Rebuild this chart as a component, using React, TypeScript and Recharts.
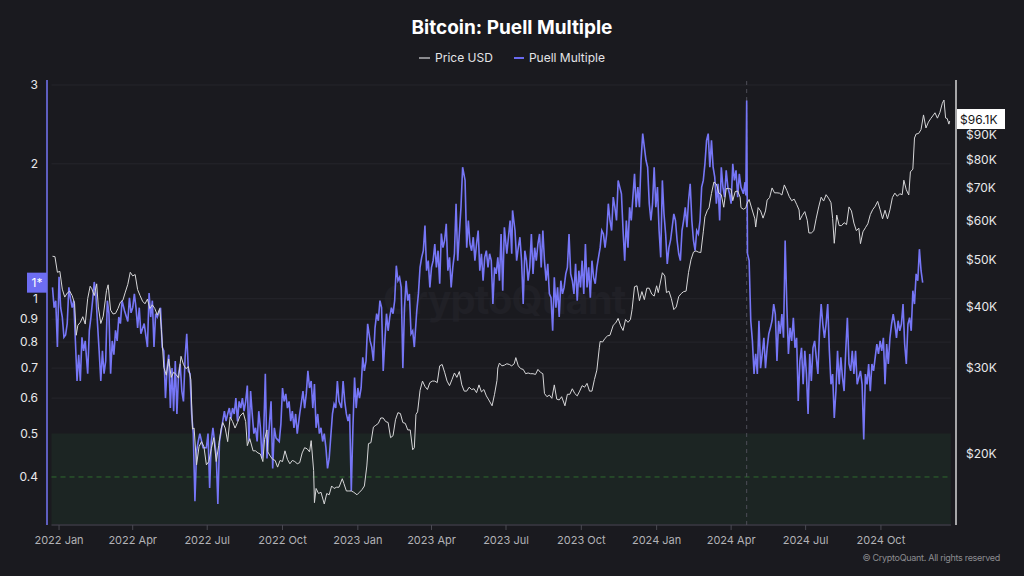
import React from 'react';
import { ComposedChart, Line, XAxis, YAxis, ReferenceArea, ReferenceLine, ReferenceDot } from 'recharts';

// ---------- data ----------
const BASE = Date.UTC(2022, 0, 1);
const dayOf = (s: string) => (Date.parse(s + 'T00:00:00Z') - BASE) / 86400000;

const xTickDates = ['2022-01-01', '2022-04-01', '2022-07-01', '2022-10-01', '2023-01-01', '2023-04-01', '2023-07-01', '2023-10-01', '2024-01-01', '2024-04-01', '2024-07-01', '2024-10-01'];
const xTickLabels = ['2022 Jan', '2022 Apr', '2022 Jul', '2022 Oct', '2023 Jan', '2023 Apr', '2023 Jul', '2023 Oct', '2024 Jan', '2024 Apr', '2024 Jul', '2024 Oct'];
const puellTicks = [0.4, 0.5, 0.6, 0.7, 0.8, 0.9, 1, 2, 3];
const puellGridValues = [0.6, 0.7, 0.8, 0.9, 1, 2, 3];
const priceTicks = [20000, 30000, 40000, 50000, 60000, 70000, 80000, 90000];
const halvingDate = '2024-04-20';
const lastPuellLabel = '1*';
const lastPuellValue = 1.086;
const lastPriceLabel = '$96.1K';
const lastPriceValue = 96100;

// Puell Multiple: [days since 2022-01-01, value]
const puell2022: [number, number][] = [
  [-8, 1.06], [-6, 0.955], [-4, 0.99], [-2, 0.78], [0, 1.12], [2, 0.955], [4, 0.91], [6, 0.82], [8, 0.83], [10, 0.88],
  [12, 1.06], [14, 1.0], [16, 0.955], [18, 0.99], [20, 0.805], [22, 0.655], [24, 0.75], [26, 0.655], [28, 0.82], [30, 0.765],
  [32, 0.805], [35, 0.68], [37, 0.85], [39, 0.91], [41, 0.99], [43, 1.09], [45, 1.025], [47, 0.88], [49, 0.765], [51, 0.655],
  [53, 0.765], [55, 0.68], [57, 0.726], [59, 0.99], [61, 0.926], [63, 0.68], [65, 0.805], [67, 0.75], [69, 0.85], [71, 0.805],
  [73, 0.91], [75, 0.88], [77, 0.99], [80, 0.94], [84, 0.89], [86, 1.005], [88, 0.93], [90, 0.955], [92, 1.025], [94, 0.955],
  [96, 0.86], [98, 0.955], [100, 0.835], [104, 0.88], [108, 0.78], [110, 1.03], [112, 0.91], [114, 0.99], [116, 0.78], [118, 0.926],
  [120, 0.91], [124, 0.955], [126, 0.78], [128, 0.765], [130, 0.6], [132, 0.7], [134, 0.75], [136, 0.57], [138, 0.7], [140, 0.561],
  [142, 0.726], [144, 0.553], [146, 0.68], [148, 0.715], [150, 0.622], [152, 0.59], [154, 0.74], [156, 0.835], [158, 0.69], [160, 0.68],
  [162, 0.553], [164, 0.5], [166, 0.353], [168, 0.457], [170, 0.48], [172, 0.5], [176, 0.465], [180, 0.465], [182, 0.5], [184, 0.378],
  [186, 0.48], [188, 0.515], [190, 0.48], [192, 0.45], [194, 0.348], [196, 0.48], [198, 0.506], [200, 0.533], [202, 0.561], [204, 0.533],
  [206, 0.553], [208, 0.57], [210, 0.54], [212, 0.57], [214, 0.553], [216, 0.6], [218, 0.533], [220, 0.59], [222, 0.57], [224, 0.6],
  [226, 0.561], [228, 0.59], [230, 0.64], [232, 0.48], [234, 0.622], [236, 0.553], [238, 0.5], [240, 0.515], [242, 0.48], [244, 0.561],
  [246, 0.515], [248, 0.44], [250, 0.5], [252, 0.68], [254, 0.44], [257, 0.525], [259, 0.59], [261, 0.418], [263, 0.515], [265, 0.489],
  [269, 0.48], [271, 0.525], [273, 0.632], [275, 0.59], [277, 0.613], [279, 0.57], [281, 0.59], [283, 0.533], [285, 0.561], [287, 0.515],
  [289, 0.553], [291, 0.5], [294, 0.553], [298, 0.622], [300, 0.57], [302, 0.613], [304, 0.69], [306, 0.632], [308, 0.655], [310, 0.57],
  [312, 0.645], [314, 0.515], [316, 0.553], [318, 0.5], [320, 0.515], [322, 0.48], [324, 0.5], [326, 0.465], [328, 0.418], [330, 0.44],
  [334, 0.553], [336, 0.582], [338, 0.57], [340, 0.655], [342, 0.59], [345, 0.57], [347, 0.655], [349, 0.59], [351, 0.553], [353, 0.533],
  [355, 0.553], [357, 0.372], [359, 0.515], [361, 0.667], [363, 0.57],
];
const puell2023: [number, number][] = [
  [365, 0.632], [367, 0.6], [369, 0.632], [371, 0.74], [373, 0.69], [375, 0.726], [377, 0.879], [380, 0.805], [382, 0.78], [384, 0.726],
  [386, 0.861], [388, 0.926], [390, 0.893], [392, 0.99], [394, 0.955], [396, 0.69], [398, 0.805], [400, 0.926], [402, 0.848], [404, 0.91],
  [406, 0.955], [408, 0.926], [410, 0.99], [412, 1.185], [414, 1.097], [416, 1.116], [418, 1.06], [420, 0.7], [422, 0.955], [424, 1.097],
  [426, 0.99], [428, 1.025], [430, 0.835], [432, 0.848], [434, 0.78], [437, 0.94], [439, 1.025], [441, 1.175], [443, 1.237], [445, 1.28],
  [447, 1.457], [449, 1.155], [451, 1.216], [453, 1.06], [455, 1.175], [457, 1.216], [459, 1.325], [461, 1.175], [463, 1.28], [465, 1.08],
  [467, 1.398], [469, 1.3], [471, 1.349], [473, 1.47], [475, 1.155], [477, 1.237], [479, 1.06], [481, 1.175], [483, 1.26], [485, 1.63],
  [487, 1.216], [489, 1.398], [491, 1.6], [493, 1.966], [496, 1.837], [498, 1.3], [500, 1.495], [502, 1.325], [504, 1.28], [506, 1.372],
  [508, 1.216], [510, 1.325], [512, 1.42], [514, 1.155], [516, 1.26], [518, 1.097], [520, 1.237], [522, 1.28], [524, 1.175], [526, 1.26],
  [528, 1.216], [530, 0.973], [532, 1.175], [534, 1.136], [536, 1.237], [538, 1.097], [540, 1.395], [542, 1.042], [544, 1.444], [547, 1.26],
  [549, 1.372], [551, 1.495], [553, 1.26], [554, 1.574], [557, 1.42], [559, 1.216], [561, 1.3], [563, 1.372], [565, 1.216], [567, 0.973],
  [569, 1.28], [571, 1.216], [573, 1.097], [575, 1.175], [577, 1.395], [579, 1.136], [581, 1.3], [583, 1.216], [585, 1.325], [587, 1.395],
  [589, 1.175], [591, 1.42], [593, 1.216], [595, 1.097], [597, 1.196], [599, 1.025], [601, 1.005], [603, 0.848], [605, 1.116], [607, 0.955],
  [609, 1.06], [611, 0.91], [613, 1.097], [615, 1.025], [617, 1.06], [619, 1.136], [621, 1.175], [623, 1.395], [625, 1.136], [627, 1.097],
  [629, 1.025], [631, 1.196], [633, 0.99], [635, 1.155], [637, 1.06], [639, 1.216], [641, 1.025], [643, 1.325], [645, 1.06], [647, 1.175],
  [649, 1.005], [651, 1.216], [653, 1.116], [655, 1.08], [657, 1.175], [659, 1.237], [661, 1.3], [663, 1.42], [665, 1.395], [667, 1.3],
  [669, 1.395], [671, 1.63], [673, 1.495], [675, 1.42], [677, 1.686], [679, 1.6], [681, 1.495], [683, 1.837], [685, 1.775], [687, 1.715],
  [689, 1.42], [691, 1.216], [693, 1.495], [695, 1.3], [697, 1.6], [699, 1.495], [701, 1.686], [703, 1.9], [705, 1.6], [707, 1.775],
  [709, 1.6], [711, 2.037], [713, 2.336], [715, 2.18], [717, 2.037], [719, 1.966], [721, 1.63], [723, 1.495], [725, 1.63], [727, 1.966],
  [729, 1.6],
];
const puell2024: [number, number][] = [
  [731, 1.775], [733, 1.42], [735, 1.237], [737, 1.837], [739, 1.547], [741, 1.395], [743, 1.196], [745, 1.3], [747, 1.349], [749, 1.444],
  [751, 1.547], [753, 1.495], [755, 1.349], [757, 1.26], [759, 1.216], [761, 1.42], [763, 1.495], [765, 1.6], [767, 1.444], [769, 1.657],
  [771, 1.806], [773, 1.495], [775, 1.349], [777, 1.28], [779, 1.42], [781, 1.395], [783, 1.495], [785, 1.775], [787, 1.837], [789, 2.0],
  [791, 2.257], [793, 2.336], [795, 1.966], [797, 2.257], [799, 1.966], [801, 1.868], [803, 1.63], [805, 1.806], [807, 1.495], [809, 1.966],
  [811, 1.775], [813, 1.686], [815, 1.935], [817, 1.775], [819, 1.715], [821, 1.63], [823, 2.0], [825, 1.837], [827, 1.935], [829, 1.686],
  [831, 1.9], [833, 1.775], [836, 1.715], [838, 1.82], [839, 1.7], [840, 2.77], [841, 1.26], [843, 1.216], [845, 0.893], [847, 0.805],
  [849, 0.679], [851, 0.753], [853, 0.679], [855, 0.893], [857, 0.7], [859, 0.753], [861, 0.818], [863, 0.7], [865, 0.777], [867, 0.835],
  [869, 0.861], [871, 0.893], [873, 0.973], [875, 0.924], [877, 0.726], [879, 0.893], [881, 0.835], [883, 0.924], [885, 0.818], [887, 1.349],
  [889, 0.973], [891, 0.753], [893, 0.861], [895, 0.805], [897, 0.907], [899, 0.777], [901, 0.818], [903, 0.591], [905, 0.726], [907, 0.777],
  [909, 0.644], [911, 0.765], [913, 0.679], [915, 0.553], [917, 0.753], [919, 0.655], [921, 0.777], [923, 0.805], [925, 0.74], [927, 0.679],
  [929, 0.848], [931, 0.973], [933, 0.878], [935, 0.818], [937, 0.878], [939, 0.973], [941, 0.765], [943, 0.644], [945, 0.679], [947, 0.542],
  [949, 0.622], [951, 0.765], [953, 0.644], [955, 0.74], [957, 0.667], [959, 0.622], [961, 0.765], [963, 0.907], [965, 0.715], [967, 0.69],
  [969, 0.765], [971, 0.679], [973, 0.765], [975, 0.644], [977, 0.667], [979, 0.69], [981, 0.644], [983, 0.485], [985, 0.679], [987, 0.644],
  [989, 0.715], [991, 0.622], [993, 0.715], [995, 0.69], [997, 0.74], [999, 0.792], [1001, 0.753], [1003, 0.805], [1005, 0.765], [1007, 0.818],
  [1009, 0.644], [1011, 0.792], [1013, 0.715], [1015, 0.818], [1017, 0.878], [1019, 0.924], [1021, 0.878], [1023, 0.818], [1025, 0.893], [1027, 0.848],
  [1029, 0.878], [1031, 0.973], [1033, 0.792], [1035, 0.715], [1037, 0.878], [1039, 0.907], [1041, 0.848], [1043, 1.042], [1045, 0.973], [1047, 1.136],
  [1049, 1.097], [1051, 1.29], [1053, 1.155], [1055, 1.086],
];

// BTC price: [date, thousand USD]
const price2022: [string, number][] = [
  ['2021-12-24', 50.8], ['2021-12-27', 50.7], ['2021-12-30', 47.1], ['2022-01-02', 47.3], ['2022-01-05', 43.5], ['2022-01-08', 41.9], ['2022-01-11', 42.7], ['2022-01-14', 43.1],
  ['2022-01-17', 42.2], ['2022-01-20', 40.7], ['2022-01-22', 35.0], ['2022-01-24', 36.7], ['2022-01-27', 37.2], ['2022-01-30', 38.2], ['2022-02-02', 36.9], ['2022-02-05', 41.6],
  ['2022-02-08', 44.1], ['2022-02-10', 43.6], ['2022-02-13', 42.2], ['2022-02-16', 44.6], ['2022-02-18', 40.0], ['2022-02-21', 37.0], ['2022-02-24', 38.3], ['2022-02-28', 43.2],
  ['2022-03-02', 44.4], ['2022-03-05', 39.4], ['2022-03-08', 38.7], ['2022-03-11', 38.8], ['2022-03-14', 39.7], ['2022-03-17', 40.9], ['2022-03-20', 41.3], ['2022-03-23', 42.9],
  ['2022-03-26', 44.5], ['2022-03-29', 47.1], ['2022-04-01', 46.3], ['2022-04-04', 46.6], ['2022-04-07', 43.4], ['2022-04-10', 42.2], ['2022-04-13', 41.1], ['2022-04-16', 40.6],
  ['2022-04-19', 41.5], ['2022-04-22', 39.7], ['2022-04-25', 40.4], ['2022-04-28', 39.7], ['2022-05-01', 38.5], ['2022-05-04', 39.7], ['2022-05-06', 36.0], ['2022-05-09', 30.1],
  ['2022-05-12', 29.0], ['2022-05-15', 31.3], ['2022-05-18', 28.7], ['2022-05-21', 29.4], ['2022-05-24', 29.1], ['2022-05-27', 28.6], ['2022-05-30', 31.7], ['2022-06-02', 30.5],
  ['2022-06-05', 29.9], ['2022-06-08', 30.2], ['2022-06-11', 28.4], ['2022-06-13', 22.5], ['2022-06-15', 22.6], ['2022-06-18', 19.0], ['2022-06-21', 20.7], ['2022-06-24', 21.2],
  ['2022-06-27', 20.7], ['2022-06-30', 19.0], ['2022-07-03', 19.3], ['2022-07-06', 20.5], ['2022-07-09', 21.6], ['2022-07-12', 19.3], ['2022-07-15', 20.8], ['2022-07-18', 22.5],
  ['2022-07-20', 23.2], ['2022-07-23', 22.6], ['2022-07-26', 21.2], ['2022-07-29', 23.8], ['2022-08-01', 23.3], ['2022-08-04', 22.6], ['2022-08-07', 23.2], ['2022-08-10', 23.9],
  ['2022-08-14', 24.3], ['2022-08-17', 23.3], ['2022-08-19', 20.8], ['2022-08-22', 21.5], ['2022-08-26', 20.3], ['2022-08-29', 20.3], ['2022-09-01', 20.1], ['2022-09-04', 20.0],
  ['2022-09-07', 19.3], ['2022-09-09', 21.4], ['2022-09-12', 22.4], ['2022-09-13', 20.2], ['2022-09-16', 19.8], ['2022-09-19', 19.5], ['2022-09-22', 19.4], ['2022-09-25', 18.8],
  ['2022-09-28', 19.4], ['2022-10-01', 19.3], ['2022-10-04', 20.3], ['2022-10-07', 19.5], ['2022-10-10', 19.1], ['2022-10-13', 19.4], ['2022-10-16', 19.3], ['2022-10-19', 19.1],
  ['2022-10-22', 19.2], ['2022-10-25', 20.1], ['2022-10-28', 20.6], ['2022-10-31', 20.5], ['2022-11-03', 20.2], ['2022-11-05', 21.3], ['2022-11-08', 18.5], ['2022-11-09', 15.9],
  ['2022-11-11', 17.0], ['2022-11-14', 16.6], ['2022-11-17', 16.7], ['2022-11-21', 15.8], ['2022-11-24', 16.6], ['2022-11-27', 16.5], ['2022-11-30', 17.2], ['2022-12-03', 17.0],
  ['2022-12-06', 17.1], ['2022-12-09', 17.1], ['2022-12-13', 17.8], ['2022-12-15', 17.4], ['2022-12-18', 16.8], ['2022-12-21', 16.8], ['2022-12-24', 16.8], ['2022-12-27', 16.7],
  ['2022-12-31', 16.5],
];
const price2023: [string, number][] = [
  ['2023-01-03', 16.7], ['2023-01-06', 16.9], ['2023-01-09', 17.2], ['2023-01-12', 18.9], ['2023-01-14', 21.0], ['2023-01-17', 21.1], ['2023-01-20', 22.7], ['2023-01-23', 22.9],
  ['2023-01-26', 23.1], ['2023-01-29', 23.7], ['2023-02-01', 23.7], ['2023-02-04', 23.3], ['2023-02-07', 23.2], ['2023-02-10', 21.6], ['2023-02-13', 21.8], ['2023-02-16', 23.5],
  ['2023-02-19', 24.3], ['2023-02-22', 24.2], ['2023-02-25', 23.2], ['2023-02-28', 23.1], ['2023-03-03', 22.4], ['2023-03-06', 22.4], ['2023-03-09', 20.4], ['2023-03-11', 20.6],
  ['2023-03-13', 24.1], ['2023-03-15', 24.4], ['2023-03-18', 27.0], ['2023-03-21', 28.2], ['2023-03-24', 27.5], ['2023-03-27', 27.1], ['2023-03-30', 28.0], ['2023-04-02', 28.2],
  ['2023-04-05', 28.2], ['2023-04-08', 28.0], ['2023-04-11', 30.3], ['2023-04-14', 30.5], ['2023-04-17', 29.4], ['2023-04-20', 28.2], ['2023-04-23', 27.6], ['2023-04-26', 28.4],
  ['2023-04-29', 29.3], ['2023-05-02', 28.7], ['2023-05-05', 29.5], ['2023-05-08', 27.7], ['2023-05-11', 26.9], ['2023-05-14', 26.9], ['2023-05-17', 27.4], ['2023-05-20', 27.1],
  ['2023-05-23', 27.2], ['2023-05-26', 26.7], ['2023-05-29', 27.7], ['2023-06-01', 26.8], ['2023-06-04', 27.1], ['2023-06-07', 26.3], ['2023-06-10', 25.8], ['2023-06-14', 25.1],
  ['2023-06-17', 26.5], ['2023-06-20', 28.3], ['2023-06-21', 30.0], ['2023-06-23', 30.7], ['2023-06-26', 30.3], ['2023-06-29', 30.4], ['2023-07-02', 30.6], ['2023-07-05', 30.5],
  ['2023-07-08', 30.3], ['2023-07-11', 30.6], ['2023-07-13', 31.5], ['2023-07-16', 30.3], ['2023-07-19', 29.9], ['2023-07-22', 29.8], ['2023-07-25', 29.2], ['2023-07-28', 29.3],
  ['2023-07-31', 29.2], ['2023-08-03', 29.2], ['2023-08-06', 29.1], ['2023-08-09', 29.8], ['2023-08-12', 29.4], ['2023-08-15', 29.2], ['2023-08-17', 26.6], ['2023-08-20', 26.2],
  ['2023-08-23', 26.4], ['2023-08-26', 26.0], ['2023-08-29', 27.7], ['2023-09-01', 25.9], ['2023-09-04', 25.8], ['2023-09-07', 26.2], ['2023-09-11', 25.1], ['2023-09-14', 26.5],
  ['2023-09-17', 26.5], ['2023-09-20', 27.2], ['2023-09-23', 26.6], ['2023-09-26', 26.3], ['2023-09-29', 26.9], ['2023-10-02', 27.6], ['2023-10-05', 27.4], ['2023-10-08', 27.9],
  ['2023-10-11', 26.9], ['2023-10-14', 26.9], ['2023-10-17', 28.4], ['2023-10-20', 29.7], ['2023-10-23', 33.0], ['2023-10-24', 34.0], ['2023-10-27', 33.9], ['2023-10-30', 34.5],
  ['2023-11-02', 34.9], ['2023-11-05', 35.0], ['2023-11-09', 36.7], ['2023-11-12', 37.1], ['2023-11-15', 37.9], ['2023-11-18', 36.6], ['2023-11-21', 35.8], ['2023-11-24', 37.7],
  ['2023-11-27', 37.2], ['2023-11-30', 37.7], ['2023-12-02', 39.5], ['2023-12-05', 44.0], ['2023-12-08', 44.2], ['2023-12-11', 41.2], ['2023-12-14', 43.0], ['2023-12-17', 41.4],
  ['2023-12-20', 43.7], ['2023-12-23', 43.7], ['2023-12-26', 42.5], ['2023-12-29', 42.1],
];
const price2024: [string, number][] = [
  ['2024-01-01', 44.2], ['2024-01-03', 42.8], ['2024-01-08', 47.0], ['2024-01-11', 46.3], ['2024-01-13', 42.8], ['2024-01-16', 43.1], ['2024-01-19', 41.6], ['2024-01-22', 39.5],
  ['2024-01-25', 40.0], ['2024-01-28', 42.0], ['2024-01-31', 42.6], ['2024-02-03', 43.0], ['2024-02-06', 43.1], ['2024-02-09', 47.1], ['2024-02-12', 50.0], ['2024-02-15', 51.8],
  ['2024-02-18', 52.1], ['2024-02-21', 51.8], ['2024-02-24', 51.7], ['2024-02-27', 57.0], ['2024-02-29', 61.2], ['2024-03-03', 63.1], ['2024-03-05', 63.8], ['2024-03-08', 68.3],
  ['2024-03-11', 72.1], ['2024-03-14', 71.4], ['2024-03-17', 68.4], ['2024-03-20', 67.9], ['2024-03-23', 64.0], ['2024-03-26', 69.9], ['2024-03-29', 69.9], ['2024-04-01', 69.7],
  ['2024-04-03', 66.0], ['2024-04-06', 68.9], ['2024-04-09', 69.1], ['2024-04-12', 67.1], ['2024-04-13', 63.9], ['2024-04-16', 63.4], ['2024-04-19', 63.8], ['2024-04-20', 64.9],
  ['2024-04-23', 66.4], ['2024-04-26', 63.8], ['2024-04-30', 60.6], ['2024-05-01', 58.3], ['2024-05-04', 63.9], ['2024-05-07', 62.9], ['2024-05-10', 60.8], ['2024-05-13', 62.9],
  ['2024-05-15', 66.2], ['2024-05-18', 67.0], ['2024-05-21', 70.1], ['2024-05-24', 68.5], ['2024-05-27', 68.5], ['2024-05-30', 68.4], ['2024-06-02', 67.8], ['2024-06-05', 71.1],
  ['2024-06-08', 69.3], ['2024-06-11', 67.3], ['2024-06-14', 66.0], ['2024-06-17', 66.5], ['2024-06-20', 64.9], ['2024-06-23', 63.2], ['2024-06-24', 60.3], ['2024-06-27', 61.6],
  ['2024-06-30', 62.7], ['2024-07-03', 60.2], ['2024-07-05', 56.7], ['2024-07-08', 56.7], ['2024-07-11', 57.3], ['2024-07-14', 60.8], ['2024-07-17', 64.1], ['2024-07-20', 67.1],
  ['2024-07-23', 65.9], ['2024-07-26', 67.9], ['2024-07-29', 66.8], ['2024-08-01', 65.4], ['2024-08-03', 60.7], ['2024-08-05', 54.0], ['2024-08-08', 61.7], ['2024-08-11', 58.7],
  ['2024-08-14', 58.7], ['2024-08-17', 59.5], ['2024-08-20', 59.0], ['2024-08-23', 64.1], ['2024-08-26', 62.9], ['2024-08-29', 59.4], ['2024-09-01', 57.3], ['2024-09-04', 58.0],
  ['2024-09-06', 53.9], ['2024-09-09', 57.0], ['2024-09-12', 58.1], ['2024-09-15', 59.2], ['2024-09-18', 61.8], ['2024-09-21', 63.3], ['2024-09-24', 64.3], ['2024-09-27', 65.8],
  ['2024-09-30', 63.3], ['2024-10-03', 60.6], ['2024-10-06', 63.1], ['2024-10-09', 60.6], ['2024-10-12', 63.2], ['2024-10-15', 67.0], ['2024-10-18', 68.4], ['2024-10-21', 67.4],
  ['2024-10-24', 68.2], ['2024-10-27', 67.9], ['2024-10-29', 72.7], ['2024-11-01', 69.5], ['2024-11-04', 67.8], ['2024-11-06', 75.6], ['2024-11-09', 76.6], ['2024-11-11', 88.7],
  ['2024-11-13', 90.4], ['2024-11-16', 90.6], ['2024-11-19', 92.3], ['2024-11-22', 98.9], ['2024-11-25', 93.0], ['2024-11-28', 95.6], ['2024-12-01', 97.3], ['2024-12-04', 98.8],
  ['2024-12-06', 99.9], ['2024-12-09', 97.4], ['2024-12-12', 100.0], ['2024-12-15', 104.5], ['2024-12-17', 106.1], ['2024-12-19', 97.5], ['2024-12-21', 97.2], ['2024-12-23', 94.7],
  ['2024-12-24', 96.1],
];

// ---------- derived tables ----------
const puellData = [...puell2022, ...puell2023, ...puell2024].map(([d, v]) => ({ d, v }));
const priceData = [...price2022, ...price2023, ...price2024].map(([s, k]) => ({ d: dayOf(s), p: k * 1000 }));
const xTicks = xTickDates.map(dayOf);
const xLabelMap: Record<number, string> = {};
xTicks.forEach((t, i) => { xLabelMap[t] = xTickLabels[i]; });

// ---------- layout / style ----------
const X_DOMAIN: [number, number] = [-14.7, 1095.7];
const ZONE_X: [number, number] = [-9.2, 1089.5];
const PUELL_DOMAIN: [number, number] = [0.3125, 3.078];
const PRICE_DOMAIN: [number, number] = [14310, 116600];
const BG = '#1a1a1f';
const PURPLE = '#7676f6';
const FONT = 'Inter, "Noto Sans", sans-serif';

const PuellTag = (props: any) => {
  const { cx, cy } = props;
  if (cx == null || cy == null) return null;
  return (
    <g>
      <rect x={cx - 20} y={cy - 10} width={20} height={20} fill="#6d6df2" />
      <text x={cx - 10} y={cy + 4} textAnchor="middle" fill="#ffffff" fontSize={12} fontFamily={FONT}>{lastPuellLabel}</text>
    </g>
  );
};

const PriceTag = (props: any) => {
  const { cx, cy } = props;
  if (cx == null || cy == null) return null;
  return (
    <g>
      <rect x={cx + 1} y={cy - 12} width={48} height={20} fill="#ffffff" />
      <text x={cx + 4} y={cy + 2.5} textAnchor="start" fill="#141418" fontSize={12} fontFamily={FONT}>{lastPriceLabel}</text>
    </g>
  );
};

export default function App() {
  return (
    <div style={{ position: 'fixed', left: 0, top: 0, width: 1024, height: 576, background: BG, overflow: 'hidden', fontFamily: FONT }}>
      <div style={{ position: 'absolute', left: 383, top: 276, fontSize: 40, fontWeight: 700, color: '#202026', letterSpacing: -1, lineHeight: '48px' }}>CryptoQuant</div>
      <div style={{ position: 'absolute', left: 0, top: 0 }}>
        <ComposedChart width={1024} height={576} margin={{ top: 80, right: 0, bottom: 21, left: 0 }}>
          <ReferenceArea yAxisId="left" x1={ZONE_X[0]} x2={ZONE_X[1]} y1={PUELL_DOMAIN[0]} y2={0.5} fill="#1c2523" fillOpacity={1} stroke="none" ifOverflow="hidden" />
          {puellGridValues.map((g) => (
            <ReferenceLine key={g} yAxisId="left" segment={[{ x: ZONE_X[0], y: g }, { x: ZONE_X[1], y: g }]} stroke="#26262c" strokeWidth={1} />
          ))}
          <ReferenceLine yAxisId="left" segment={[{ x: ZONE_X[0], y: 0.4 }, { x: ZONE_X[1], y: 0.4 }]} stroke="#2f6b2f" strokeDasharray="5 4" strokeWidth={1} />
          <ReferenceLine yAxisId="left" segment={[{ x: ZONE_X[0], y: PUELL_DOMAIN[0] }, { x: ZONE_X[1], y: PUELL_DOMAIN[0] }]} stroke="#32323a" strokeWidth={2} />
          <ReferenceLine yAxisId="left" x={dayOf(halvingDate)} stroke="#4e4e58" strokeDasharray="4 4" strokeWidth={1} />
          <XAxis
            dataKey="d"
            type="number"
            domain={X_DOMAIN}
            allowDataOverflow
            ticks={xTicks}
            interval={0}
            tickFormatter={(v: number) => xLabelMap[v] ?? ''}
            axisLine={false}
            tickLine={{ stroke: '#4a4a52' }}
            tickSize={5}
            tickMargin={6}
            height={30}
            tick={{ fill: '#b2b2b6', fontSize: 11, fontFamily: FONT }}
          />
          <YAxis
            yAxisId="left"
            orientation="left"
            scale="log"
            domain={PUELL_DOMAIN}
            allowDataOverflow
            ticks={puellTicks}
            interval={0}
            width={47}
            axisLine={{ stroke: PURPLE, strokeWidth: 1.5 }}
            tickLine={false}
            tickSize={0}
            tickMargin={9}
            tick={{ fill: '#e8e8ea', fontSize: 12, fontFamily: FONT }}
            tickFormatter={(v: number) => String(v)}
          />
          <YAxis
            yAxisId="right"
            orientation="right"
            scale="log"
            domain={PRICE_DOMAIN}
            allowDataOverflow
            ticks={priceTicks}
            interval={0}
            width={68}
            axisLine={{ stroke: '#d4d4d6', strokeWidth: 1.5 }}
            tickLine={false}
            tickSize={0}
            tickMargin={10}
            tick={{ fill: '#e8e8ea', fontSize: 12, fontFamily: FONT }}
            tickFormatter={(v: number) => `$${v / 1000}K`}
          />
          <Line yAxisId="left" data={puellData} dataKey="v" type="linear" stroke={PURPLE} strokeWidth={1.6} dot={false} activeDot={false} isAnimationActive={false} />
          <Line yAxisId="right" data={priceData} dataKey="p" type="linear" stroke="#d6d6d8" strokeWidth={1} dot={false} activeDot={false} isAnimationActive={false} />
          <ReferenceDot yAxisId="left" x={X_DOMAIN[0]} y={lastPuellValue} ifOverflow="visible" shape={PuellTag} />
          <ReferenceDot yAxisId="right" x={X_DOMAIN[1]} y={lastPriceValue} ifOverflow="visible" shape={PriceTag} />
        </ComposedChart>
      </div>
      <div style={{ position: 'absolute', left: 0, width: 1024, top: 16, textAlign: 'center', color: '#ffffff', fontSize: 19, fontWeight: 700 }}>Bitcoin: Puell Multiple</div>
      <div style={{ position: 'absolute', left: 0, width: 1024, top: 50, display: 'flex', justifyContent: 'center', alignItems: 'center', fontSize: 12, color: '#e4e4e6' }}>
        <span style={{ display: 'inline-block', width: 11, height: 2, background: '#8a8a8e', marginRight: 5 }} />
        <span>Price USD</span>
        <span style={{ display: 'inline-block', width: 10, height: 2, background: '#6a6af0', marginLeft: 21, marginRight: 5 }} />
        <span>Puell Multiple</span>
      </div>
      <div style={{ position: 'absolute', right: 24, top: 552, fontSize: 9, color: '#8c8c90', letterSpacing: -0.3 }}>© CryptoQuant. All rights reserved</div>
    </div>
  );
}
